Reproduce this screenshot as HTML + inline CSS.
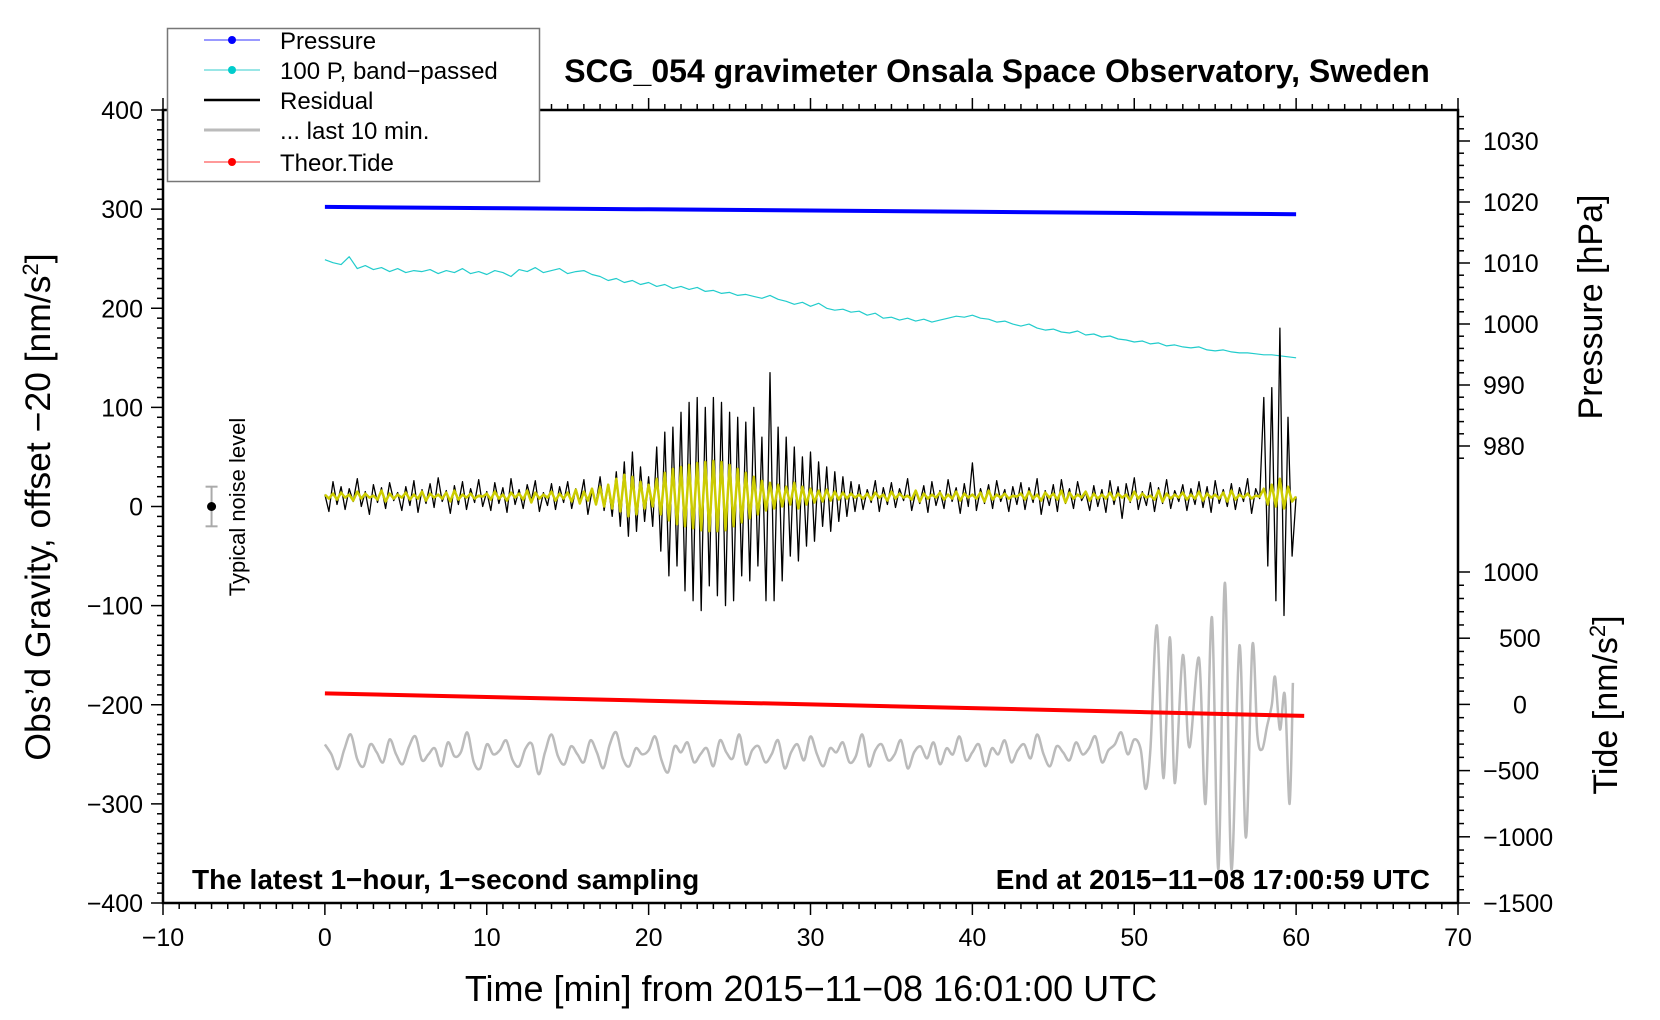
<!DOCTYPE html>
<html><head><meta charset="utf-8"><style>
html,body{margin:0;padding:0;background:#fff}
svg{display:block;font-family:"Liberation Sans",sans-serif}
</style></head><body>
<svg id="chart" width="1660" height="1020" viewBox="0 0 1660 1020">
<g id="marks"></g>
<g id="axes"></g>
<text x="997" y="82" font-size="32" font-weight="bold" text-anchor="middle">SCG_054 gravimeter Onsala Space Observatory, Sweden</text>
<text x="192" y="889" font-size="28" font-weight="bold">The latest 1−hour, 1−second sampling</text>
<text x="1430" y="889" font-size="28" font-weight="bold" text-anchor="end">End at 2015−11−08 17:00:59 UTC</text>
<text x="811" y="1001" font-size="36" text-anchor="middle">Time [min] from 2015−11−08 16:01:00 UTC</text>
<text transform="translate(50,507) rotate(-90)" font-size="35.5" text-anchor="middle">Obs’d Gravity, offset −20 [nm/s<tspan font-size="22" dy="-12">2</tspan><tspan dy="12">]</tspan></text>
<text transform="translate(1602,307) rotate(-90)" font-size="34" text-anchor="middle">Pressure [hPa]</text>
<text transform="translate(1617,705) rotate(-90)" font-size="34" text-anchor="middle">Tide [nm/s<tspan font-size="22" dy="-12">2</tspan><tspan dy="12">]</tspan></text>
<text transform="translate(245,507) rotate(-90)" font-size="22" text-anchor="middle">Typical noise level</text>
<g>
<rect x="167.5" y="28.5" width="372" height="153" fill="#fff" stroke="#777" stroke-width="1.5"/>
<g><line x1="204" y1="40" x2="260" y2="40" stroke="#33f" stroke-width="1"/><circle cx="232" cy="40" r="4" fill="#00f"/><text x="280" y="49" font-size="24">Pressure</text></g>
<g><line x1="204" y1="70" x2="260" y2="70" stroke="#3cc" stroke-width="1"/><circle cx="232" cy="70" r="4" fill="#0cc"/><text x="280" y="79" font-size="24">100 P, band−passed</text></g>
<g><line x1="204" y1="100" x2="260" y2="100" stroke="#000" stroke-width="2.5"/><text x="280" y="109" font-size="24">Residual</text></g>
<g><line x1="204" y1="130" x2="260" y2="130" stroke="#bbb" stroke-width="3"/><text x="280" y="139" font-size="24">... last 10 min.</text></g>
<g><line x1="204" y1="162" x2="260" y2="162" stroke="#f33" stroke-width="1"/><circle cx="232" cy="162" r="4" fill="#f00"/><text x="280" y="171" font-size="24">Theor.Tide</text></g>
</g>
</svg>
<script>
// ---- data ----
const xTicks = [-10,0,10,20,30,40,50,60,70];
const gTicks = [400,300,200,100,0,-100,-200,-300,-400];
const pTicks = [1030,1020,1010,1000,990,980];
const tTicks = [1000,500,0,-500,-1000,-1500];
const pressureT = [0,10,20,30,40,50,60];
const pressureV = [1019.2,1019.0,1018.8,1018.6,1018.4,1018.2,1018.0];
const tideT = [0,10,20,30,40,50,60.5];
const tideV = [83,56,28,0,-28,-57,-87];
const resStep = 0.25;
const residualV = [12,-5,25,2,20,-3,18,5,28,0,15,-8,22,4,19,-2,24,6,14,-4,
20,1,26,-6,17,3,23,-1,29,5,16,-7,21,2,25,-3,18,4,27,0,
15,-4,24,3,19,-6,28,2,17,-2,22,6,26,-5,14,1,23,-3,20,4,
25,-2,18,5,27,-8,16,3,30,-4,22,-10,35,-20,
45,-30,55,-25,40,-15,
30,-20,60,-45,75,-70,80,-60,
95,-85,105,-95,110,-105,100,-80,
110,-90,105,-100,95,-95,90,-70,
85,-75,100,-60,70,-95,135,-95,
80,-75,70,-50,60,-55,50,-40,
55,-35,45,-20,40,-25,35,-15,30,-10,25,-5,
22,-3,17,4,26,-5,19,2,24,-1,18,6,28,-4,15,3,21,-6,25,1,
16,-2,27,5,19,-7,23,0,44,-4,18,3,22,-2,26,5,17,-5,20,2,
24,-3,19,4,28,-8,16,1,22,-5,27,3,18,-2,25,6,14,-4,21,0,
17,-6,26,2,20,-12,23,4,29,-3,15,1,24,-5,19,3,27,-2,16,5,
22,-4,18,2,25,-1,20,-6,26,3,17,0,23,-3,19,5,28,-7,18,8,
110,-60,120,-95,180,-110,90,-50,10];
const yellowV = [12,8,13,7,14,9,12,6,15,8,13,9,11,7,16,5,13,8,12,9,
14,7,12,8,15,6,13,9,12,8,14,5,16,7,12,9,13,8,11,10,
13,7,15,8,12,6,14,9,13,7,16,4,14,8,12,9,15,6,13,8,
14,5,17,3,15,6,18,2,20,0,22,-2,28,-5,
32,-10,30,-8,25,-2,
22,0,28,-8,34,-14,38,-18,
40,-20,42,-22,44,-24,45,-25,
46,-25,45,-24,42,-20,38,-16,
34,-12,30,-8,26,-4,24,-2,
22,0,20,2,24,-2,20,2,
18,4,16,5,17,6,15,7,14,8,13,9,
12,8,13,7,14,9,12,6,15,8,13,9,11,7,16,5,13,8,12,9,
14,7,12,8,15,6,13,9,12,8,14,5,16,7,12,9,13,8,11,10,
13,7,15,8,12,6,14,9,13,7,16,4,14,8,12,9,15,6,13,8,
12,8,14,7,13,9,12,6,15,8,13,9,11,7,16,5,13,8,12,9,
14,7,12,8,15,6,13,9,12,8,14,5,16,7,12,9,13,8,11,10,
18,2,22,0,28,-2,20,5,10];
const cyanStep = 0.5;
const cyanV = [249,246,244,252,240,243,239,241,237,240,236,238,237,239,235,238,236,240,235,237,
234,238,236,232,239,237,241,236,238,240,235,237,238,234,232,228,230,226,228,224,
226,222,224,220,222,219,221,217,218,215,216,213,214,212,210,213,209,207,204,206,
202,205,200,198,199,196,197,193,195,190,191,188,190,187,189,186,188,190,192,191,
193,190,189,186,187,184,182,184,180,178,179,176,175,177,173,174,171,172,169,168,
166,167,164,165,162,163,161,160,161,158,157,158,156,155,155,154,153,153,152,151,150];
const grayStep = 0.4;
const grayV = [-240,-250,-265,-245,-230,-255,-262,-240,-248,-258,
-235,-250,-260,-242,-232,-256,-250,-244,-262,-238,
-252,-248,-228,-258,-264,-240,-250,-246,-236,-256,
-262,-244,-240,-270,-248,-230,-252,-260,-242,-250,
-258,-236,-248,-264,-240,-228,-254,-262,-244,-250,
-246,-232,-256,-268,-242,-248,-238,-258,-250,-244,
-262,-236,-248,-254,-230,-260,-246,-242,-258,-250,
-236,-264,-248,-240,-256,-232,-250,-262,-244,-248,
-238,-258,-252,-230,-262,-246,-240,-256,-250,-236,
-264,-248,-242,-254,-238,-260,-244,-250,-232,-256,
-248,-240,-262,-244,-250,-236,-258,-246,-240,-254,
-230,-250,-262,-242,-248,-256,-238,-250,-244,-232,
-258,-246,-240,-228,-250,-235,-245];
const grayEndT = [50.7,51.0,51.4,51.8,52.2,52.5,53.0,53.4,54.0,54.4,54.8,55.2,55.6,56.0,56.5,56.9,57.3,57.6,57.9,58.2,58.5,58.7,59.0,59.3,59.6,59.8];
const grayEndV = [-285,-245,-120,-274,-132,-279,-150,-243,-153,-300,-112,-366,-77,-366,-140,-334,-140,-230,-245,-222,-200,-172,-225,-190,-300,-178];
const noiseX = [-7];
const noiseV = [0];
const noiseErr = [20];

// ---- scales ----
const X0=163, X1=1458, YT=110, YB=903;
const xs = t => X0 + (t+10)*(X1-X0)/80;
const gy = v => YT + (400-v)*(YB-YT)/800;
const py = p => 141 + (1030-p)*(446-141)/50;
const ty = t => 572 + (1000-t)*(YB-572)/2500;
const NS="http://www.w3.org/2000/svg";
const marks=document.getElementById('marks'), axes=document.getElementById('axes');
function mk(tag,attrs,parent){const e=document.createElementNS(NS,tag);for(const k in attrs)e.setAttribute(k,attrs[k]);parent.appendChild(e);return e;}
function poly(pts,stroke,w,name){
  const e=mk('polyline',{points:pts.map(p=>p[0].toFixed(1)+','+p[1].toFixed(1)).join(' '),fill:'none',stroke:stroke,'stroke-width':w,'stroke-linejoin':'round'},marks);
  
  
  return e;
}
function smooth(pts){
  let d='M'+pts[0][0].toFixed(1)+','+pts[0][1].toFixed(1);
  for(let i=0;i<pts.length-1;i++){
    const p0=pts[Math.max(0,i-1)],p1=pts[i],p2=pts[i+1],p3=pts[Math.min(pts.length-1,i+2)];
    const c1=[p1[0]+(p2[0]-p0[0])/6,p1[1]+(p2[1]-p0[1])/6],c2=[p2[0]-(p3[0]-p1[0])/6,p2[1]-(p3[1]-p1[1])/6];
    d+=' C'+c1[0].toFixed(1)+','+c1[1].toFixed(1)+' '+c2[0].toFixed(1)+','+c2[1].toFixed(1)+' '+p2[0].toFixed(1)+','+p2[1].toFixed(1);
  }
  return d;
}
poly(pressureT.map((t,i)=>[xs(t),py(pressureV[i])]),'#00f',4,'pressure-line');
poly(cyanV.map((v,i)=>[xs(i*cyanStep),gy(v)]),'#2cc',1.2,'bandpassed-pressure-line');
const grayPts = grayV.map((v,i)=>[xs(i*grayStep),gy(v)]).concat(grayEndT.map((t,i)=>[xs(t),gy(grayEndV[i])]));
const gp=mk('path',{d:smooth(grayPts),fill:'none',stroke:'#bbb','stroke-width':2.5},marks);


poly(tideT.map((t,i)=>[xs(t),ty(tideV[i])]),'#f00',4,'theoretical-tide-line');
poly(residualV.map((v,i)=>[xs(i*resStep),gy(v)]),'#000',1.3,'residual-line');
poly(yellowV.map((v,i)=>[xs(i*resStep),gy(v)]),'#cc0',2.5,'residual-filtered-line');
noiseX.forEach((x,i)=>{
  const l=mk('line',{x1:xs(x),x2:xs(x),y1:gy(noiseV[i]+noiseErr[i]),y2:gy(noiseV[i]-noiseErr[i]),stroke:'#aaa','stroke-width':2},marks);
  
  
  [noiseV[i]+noiseErr[i],noiseV[i]-noiseErr[i]].forEach(v=>mk('line',{x1:xs(x)-6,x2:xs(x)+6,y1:gy(v),y2:gy(v),stroke:'#aaa','stroke-width':2},marks));
  const c=mk('circle',{cx:xs(x),cy:gy(noiseV[i]),r:4.5,fill:'#000'},marks);
  
  
});
const fr=mk('rect',{x:X0,y:YT,width:X1-X0,height:YB-YT,fill:'none',stroke:'#000','stroke-width':2.5},axes);


function tick(x1,y1,x2,y2){mk('line',{x1:x1,y1:y1,x2:x2,y2:y2,stroke:'#000','stroke-width':1.5},axes);}
function label(x,y,s,anchor,name){const t=mk('text',{x:x,y:y,'font-size':25,'text-anchor':anchor},axes);t.textContent=s;}
const fmt=v=>String(v).replace('-','−');
for(let t=-10;t<=70;t+=1){const x=xs(t),maj=t%10===0;tick(x,YB,x,YB+(maj?12:6));tick(x,YT,x,YT-(maj?12:6));}
xTicks.forEach(t=>label(xs(t),946,fmt(t),'middle','x-tick-label'));
for(let v=-400;v<=400;v+=10){const y=gy(v),maj=v%100===0;tick(X0,y,X0-(maj?12:6),y);}
gTicks.forEach(v=>label(X0-20,gy(v)+9,fmt(v),'end','gravity-tick-label'));
for(let p=978;p<=1034;p+=2){const y=py(p);if(y<YT)continue;const maj=p%10===0;tick(X1,y,X1+(maj?12:6),y);}
pTicks.forEach(p=>label(X1+25,py(p)+9,fmt(p),'start','pressure-tick-label'));
for(let t=-1500;t<=1000;t+=100){const y=ty(t),maj=t%500===0;tick(X1,y,X1+(maj?12:6),y);}
tTicks.forEach(t=>label(X1+25+(t<0?0:(t>=1000?0:(t===0?30:16))),ty(t)+9,fmt(t),'start','tide-tick-label'));
</script>
</body></html>
